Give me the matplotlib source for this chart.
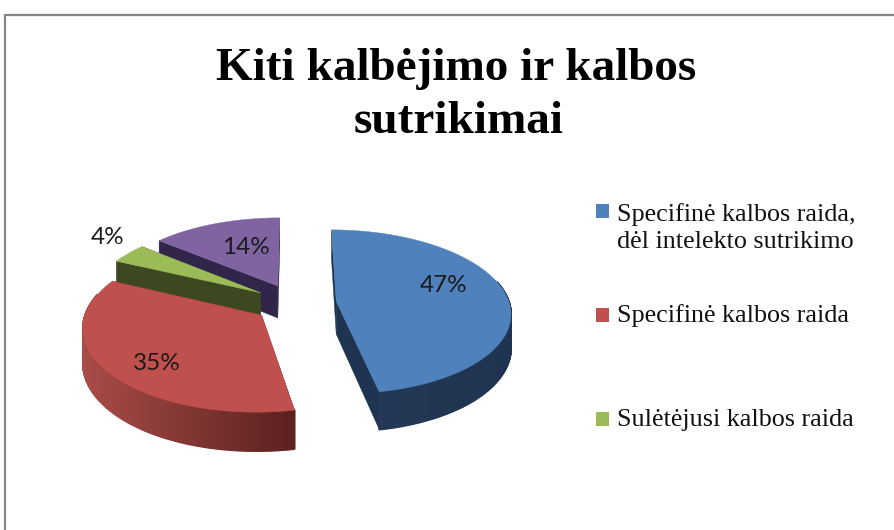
import numpy as np
import matplotlib
matplotlib.use("Agg")
import matplotlib.pyplot as plt
from matplotlib.colors import to_rgb

title_lines = ["Kiti kalbėjimo ir kalbos", "sutrikimai"]
categories = ["Specifinė kalbos raida,\ndėl intelekto sutrikimo",
              "Specifinė kalbos raida",
              "Sulėtėjusi kalbos raida"]
values = [47, 35, 4, 14]

top_colors = ["#4F81BD", "#C0504D", "#9BBB59", "#8064A2"]
wall_light = ["#26395A", "#A94C48", "#414C22", "#33274B"]
wall_dark = ["#1F3450", "#5B211F", "#3D4820", "#31254A"]
label_pos = [(444, 285), (157, 364), (108, 238), (246, 248)]
legend_rows = [(211, 228), (315, 316), (419, 420)]

# projection of the tilted pie plane to pixels
XC, Y0, R, A, K, DEPTH, EXPLODE = 295.0, 303.0, 173.0, 81.0, 0.13, 33.0, 0.24


def project(u, v, z=0.0):
    s = 1.0 / (1.0 + K * v)
    return XC + R * u * s, Y0 - A * v * s + z * s


fig = plt.figure(figsize=(8.94, 5.30), dpi=100)
ax = fig.add_axes([0, 0, 1, 1])
ax.set_xlim(0, 894)
ax.set_ylim(530, 0)
ax.axis("off")

# chart frame
ax.plot([5, 5, 894], [530, 15, 15], color="#868686", lw=1.6, solid_joinstyle="miter")

frac = np.cumsum([0] + values) / sum(values) * 2 * np.pi
slices = []
for i in range(len(values)):
    a0, a1 = frac[i], frac[i + 1]
    mid = (a0 + a1) / 2
    cu, cv = EXPLODE * np.sin(mid), EXPLODE * np.cos(mid)
    th = np.linspace(a0, a1, max(12, int((a1 - a0) * 60)))
    slices.append((i, th, cu, cv))

# back-to-front painting order
for i, th, cu, cv in sorted(slices, key=lambda s: -s[3]):
    u, v = cu + np.sin(th), cv + np.cos(th)
    ax_, ay_ = project(cu, cv)
    bx_, by_ = project(cu, cv, DEPTH)
    for j in (0, -1):
        tx, ty = project(u[j], v[j])
        dx, dy = project(u[j], v[j], DEPTH)
        ax.fill([ax_, tx, dx, bx_], [ay_, ty, dy, by_], color=wall_dark[i], lw=0.3)
    lo, hi = np.array(to_rgb(wall_dark[i])), np.array(to_rgb(wall_light[i]))
    xt, yt = project(u, v)
    xb, yb = project(u, v, DEPTH)
    xmin, xmax = xt.min(), xt.max()
    for j in range(len(th) - 1):
        if np.cos(th[j]) > 0.25:  # back of the rim is hidden by the top face
            continue
        t = (xmax - xt[j]) / max(xmax - xmin, 1)
        col = lo + (hi - lo) * np.clip(t, 0, 1)
        ax.fill([xt[j], xt[j + 1], xb[j + 1], xb[j]],
                [yt[j], yt[j + 1], yb[j + 1], yb[j]],
                facecolor=col, edgecolor=col, lw=1.4, joinstyle="round")
    ax.fill(np.r_[ax_, xt], np.r_[ay_, yt], color=top_colors[i], lw=0.3)

for val, (x, y) in zip(values, label_pos):
    ax.text(x, y, f"{val}%", ha="center", va="center", fontsize=17.5,
            family="Lato", color="#1a1a1a")

ax.text(456, 69, title_lines[0], ha="center", va="center", fontsize=34,
        fontweight="bold", family="Liberation Serif", color="black")
ax.text(459, 122, title_lines[1], ha="center", va="center", fontsize=34,
        fontweight="bold", family="Liberation Serif", color="black")

for k, (cat, (my, ty)) in enumerate(zip(categories, legend_rows)):
    ax.fill([596, 609, 609, 596], [my - 7, my - 7, my + 7, my + 7],
            color=top_colors[k], lw=0)
    ax.text(617, ty, cat, ha="left", va="center", fontsize=18.8,
            family="Liberation Serif", color="#111111", linespacing=1.3)

fig.savefig("out.png", dpi=100)
